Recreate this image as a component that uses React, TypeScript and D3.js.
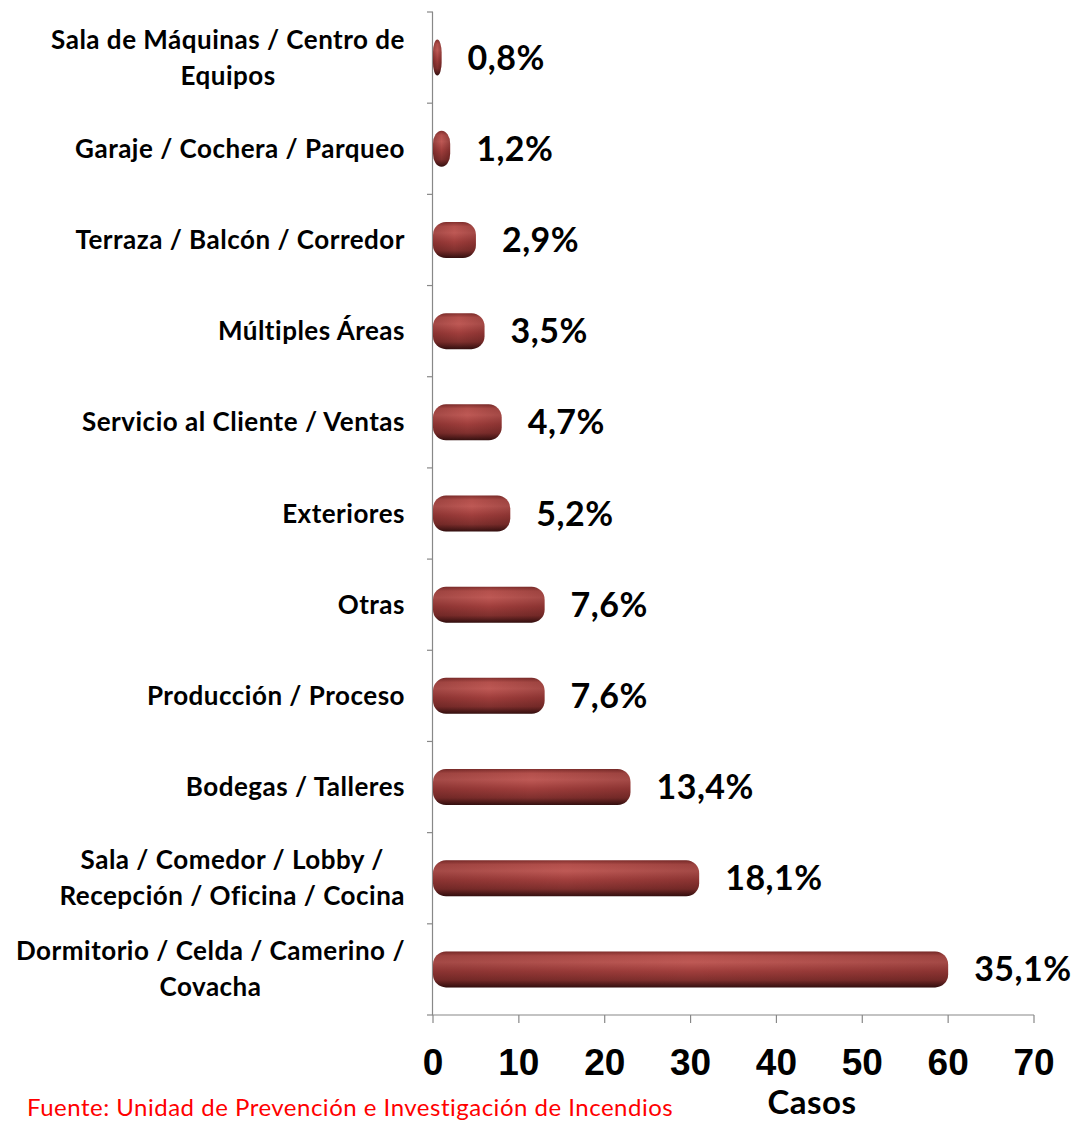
import { useEffect, useRef } from "react";
import * as d3 from "d3";

const categories = [
  ["Sala de Máquinas / Centro de", "Equipos"],
  ["Garaje / Cochera / Parqueo"],
  ["Terraza / Balcón / Corredor"],
  ["Múltiples Áreas"],
  ["Servicio al Cliente / Ventas"],
  ["Exteriores"],
  ["Otras"],
  ["Producción / Proceso"],
  ["Bodegas / Talleres"],
  ["Sala / Comedor / Lobby /", "Recepción / Oficina / Cocina"],
  ["Dormitorio / Celda / Camerino /", "Covacha"],
];
const casos = [1, 2, 5, 6, 8, 9, 13, 13, 23, 31, 60];
const pctLabels = ["0,8%", "1,2%", "2,9%", "3,5%", "4,7%", "5,2%", "7,6%", "7,6%", "13,4%", "18,1%", "35,1%"];
const xTicks = [0, 10, 20, 30, 40, 50, 60, 70];

const W = 1075;
const H = 1123;
const FONT = "Lato, 'Open Sans', sans-serif";
const TICKFONT = "'Liberation Sans Narrow', 'Liberation Sans', Arial, sans-serif";

export default function App() {
  const ref = useRef<SVGSVGElement>(null);

  useEffect(() => {
    const svg = d3.select(ref.current);
    svg.selectAll("*").remove();

    const left = 433;
    const right = 1034;
    const top = 12;
    const bottom = 1015;

    const x = d3.scaleLinear().domain([0, 70]).range([left, right]);
    const y = d3.scaleBand<number>().domain(d3.range(categories.length)).range([top, bottom]);

    const defs = svg.append("defs");
    const grad = defs.append("linearGradient")
      .attr("id", "barGrad")
      .attr("x1", 0).attr("y1", 0).attr("x2", 0).attr("y2", 1);
    [
      [0, "#83302e"],
      [0.12, "#b4504c"],
      [0.3, "#be5955"],
      [0.55, "#a03e3c"],
      [0.8, "#80302e"],
      [1, "#341010"],
    ].forEach(([o, c]) => grad.append("stop").attr("offset", o as number).attr("stop-color", c as string));

    const endGrad = defs.append("linearGradient")
      .attr("id", "endGrad")
      .attr("x1", 0).attr("y1", 0).attr("x2", 1).attr("y2", 0);
    [
      [0, "rgba(40,0,0,0.35)"],
      [0.5, "rgba(40,0,0,0)"],
      [1, "rgba(40,0,0,0.35)"],
    ].forEach(([o, c]) => endGrad.append("stop").attr("offset", o as number).attr("stop-color", c as string));

    // axes
    svg.append("line")
      .attr("x1", left - 0.5).attr("x2", left - 0.5)
      .attr("y1", top).attr("y2", bottom)
      .attr("stroke", "#888").attr("stroke-width", 1.2);
    svg.append("line")
      .attr("x1", left - 0.5).attr("x2", right)
      .attr("y1", bottom).attr("y2", bottom)
      .attr("stroke", "#888").attr("stroke-width", 1.2);

    const bounds = d3.range(categories.length + 1).map((i) => top + i * y.step());
    svg.selectAll(".ytick").data(bounds).enter().append("line")
      .attr("x1", left - 6).attr("x2", left)
      .attr("y1", (d) => d).attr("y2", (d) => d)
      .attr("stroke", "#888").attr("stroke-width", 1.2);

    svg.selectAll(".xtick").data(xTicks).enter().append("line")
      .attr("x1", (d) => x(d)).attr("x2", (d) => x(d))
      .attr("y1", bottom).attr("y2", bottom + 8)
      .attr("stroke", "#888").attr("stroke-width", 1.2);

    svg.selectAll(".xlabel").data(xTicks).enter().append("text")
      .attr("x", (d) => x(d)).attr("y", 1075)
      .attr("text-anchor", "middle")
      .attr("font-family", TICKFONT).attr("font-weight", "bold").attr("font-size", 37)
      .text((d) => d);

    svg.append("text")
      .attr("x", 812).attr("y", 1114)
      .attr("text-anchor", "middle")
      .attr("font-family", FONT).attr("font-weight", "bold").attr("font-size", 33)
      .attr("letter-spacing", 0.5)
      .text("Casos");

    svg.append("text")
      .attr("x", 27).attr("y", 1116)
      .attr("font-family", FONT).attr("font-size", 24).attr("letter-spacing", 0.5)
      .attr("fill", "#ff0000")
      .text("Fuente: Unidad de Prevención e Investigación de Incendios");

    // bars
    const barH = 36;
    const bars = svg.selectAll(".bar").data(casos).enter().append("g");
    bars.append("rect")
      .attr("x", x(0))
      .attr("y", (d, i) => y(i)! + y.bandwidth() / 2 - barH / 2)
      .attr("width", (d) => x(d) - x(0))
      .attr("height", barH)
      .attr("rx", (d) => Math.min(13, (x(d) - x(0)) / 2))
      .attr("ry", 13)
      .attr("fill", "url(#barGrad)");
    bars.append("rect")
      .attr("x", x(0))
      .attr("y", (d, i) => y(i)! + y.bandwidth() / 2 - barH / 2)
      .attr("width", (d) => x(d) - x(0))
      .attr("height", barH)
      .attr("rx", (d) => Math.min(13, (x(d) - x(0)) / 2))
      .attr("ry", 13)
      .attr("fill", "url(#endGrad)")
      .attr("opacity", (d) => (d > 4 ? 0.5 : 0.8));

    svg.selectAll(".val").data(casos).enter().append("text")
      .attr("x", (d) => x(d) + 26)
      .attr("y", (d, i) => y(i)! + y.bandwidth() / 2 + 12)
      .attr("font-family", FONT).attr("font-weight", "bold").attr("font-size", 34)
      .attr("letter-spacing", 0.5)
      .text((d, i) => pctLabels[i]);

    // category labels, lines centered within a right-aligned block
    const labelRight = 405;
    const lineGap = 36;
    categories.forEach((lines, i) => {
      const cy = y(i)! + y.bandwidth() / 2;
      const g = svg.append("g");
      const texts = lines.map((ln, k) =>
        g.append("text")
          .attr("y", cy + (k - (lines.length - 1) / 2) * lineGap + 9)
          .attr("font-family", FONT).attr("font-weight", "bold").attr("font-size", 26)
          .attr("letter-spacing", 0.5)
          .attr("text-anchor", "middle")
          .text(ln)
      );
      const maxW = d3.max(texts, (t) => (t.node() as SVGTextElement).getComputedTextLength()) || 0;
      texts.forEach((t) => t.attr("x", labelRight - maxW / 2));
    });
  }, []);

  return (
    <svg
      ref={ref}
      width={W}
      height={H}
      style={{ position: "absolute", left: 0, top: 0, background: "#fff" }}
    ></svg>
  );
}
